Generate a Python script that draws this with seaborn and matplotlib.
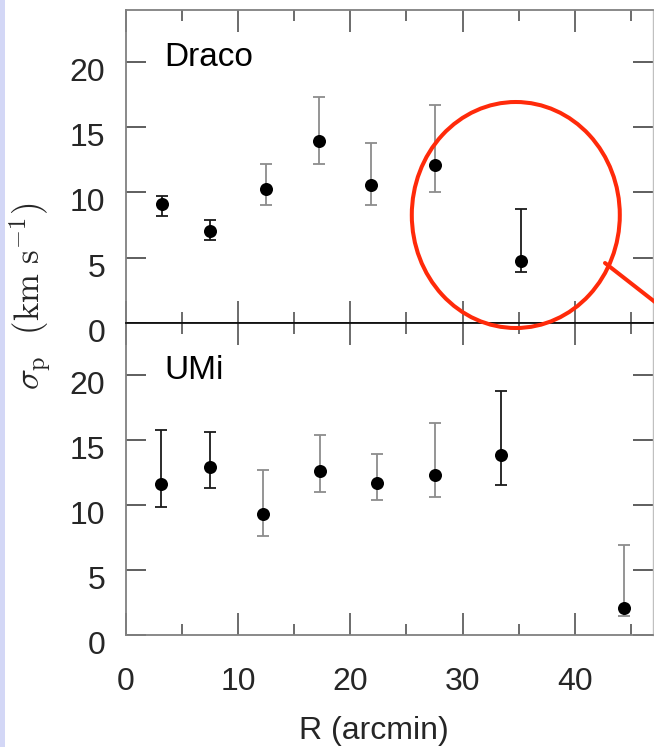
import numpy as np
import pandas as pd
import matplotlib
matplotlib.use("Agg")
import matplotlib.pyplot as plt
import matplotlib.transforms as mtransforms
from matplotlib.patches import Ellipse, Rectangle
from matplotlib.lines import Line2D
import seaborn as sns

# ---------------- data ----------------
draco_R = [3.24, 7.49, 12.46, 17.16, 21.88, 27.5, 35.2]
draco_sigma = [9.10, 7.03, 10.25, 13.92, 10.6, 12.11, 4.73]
draco_err_lo = [0.90, 0.69, 1.23, 1.74, 1.58, 2.10, 0.87]
draco_err_hi = [0.61, 0.89, 1.96, 3.45, 3.19, 4.62, 3.98]
draco_err_dark = [True, True, False, False, False, False, True]

umi_R = [3.12, 7.52, 12.25, 17.25, 22.36, 27.5, 33.45, 44.36]
umi_sigma = [11.62, 12.9, 9.31, 12.62, 11.69, 12.31, 13.85, 2.03]
umi_err_lo = [1.80, 1.62, 1.69, 1.67, 1.31, 1.75, 2.36, 0.62]
umi_err_hi = [4.15, 2.72, 3.38, 2.76, 2.23, 3.97, 4.92, 4.89]
umi_err_dark = [True, True, False, False, False, False, True, False]

panel_names = ["Draco", "UMi"]
x_major = [0, 10, 20, 30, 40]
x_minor = [5, 15, 25, 35, 45]
y_major = [0, 5, 10, 15, 20]

# ---------------- style ----------------
sns.set_theme(style="ticks")
plt.rcParams["font.family"] = ["Liberation Sans", "DejaVu Sans"]
plt.rcParams["mathtext.fontset"] = "cm"

W, H = 654, 747
fig = plt.figure(figsize=(W / 100, H / 100), dpi=100)
fig.patch.set_facecolor("white")

left = 126 / W
width = 527.3 / W
ax1 = fig.add_axes([left, 1 - 322.7 / H, width, 312.5 / H])
ax2 = fig.add_axes([left, 1 - 634.7 / H, width, 312.0 / H])

DARK = "#1a1a1a"
GRAY = "#8c8c8c"

datasets = [
    (ax1, draco_R, draco_sigma, draco_err_lo, draco_err_hi, draco_err_dark),
    (ax2, umi_R, umi_sigma, umi_err_lo, umi_err_hi, umi_err_dark),
]

for (ax, R, s, lo, hi, dark), name in zip(datasets, panel_names):
    df = pd.DataFrame({"R": R, "sigma": s, "lo": lo, "hi": hi, "dark": dark})
    for _, row in df.iterrows():
        ax.errorbar(row["R"], row["sigma"], yerr=[[row["lo"]], [row["hi"]]],
                    fmt="none", ecolor=DARK if row["dark"] else GRAY,
                    elinewidth=1.3, capsize=4.3, capthick=1.3, zorder=2)
    sns.scatterplot(data=df, x="R", y="sigma", ax=ax, color="black",
                    s=88, edgecolor="black", linewidth=0, zorder=3, legend=False)
    ax.set_xlim(0, 47)
    ax.set_ylim(0, 24)
    ax.set_xticks(x_major)
    ax.set_xticks(x_minor, minor=True)
    ax.set_yticks(y_major)
    ax.set_yticks([], minor=True)
    ax.tick_params(axis="x", which="major", direction="in", length=15.8, width=1.1,
                   color="#444444", top=True, bottom=True, labelsize=23, pad=23)
    ax.tick_params(axis="x", which="minor", direction="in", length=7.9, width=1.1,
                   color="#444444", top=True, bottom=True)
    ax.tick_params(axis="y", which="major", direction="in", length=14.4, width=1.1,
                   color="#333333", left=True, right=True, labelsize=23, pad=14.8)
    ax.set_xlabel("")
    ax.set_ylabel("")
    for sp in ["left", "top", "bottom"]:
        ax.spines[sp].set_color("#808080")
        ax.spines[sp].set_linewidth(1.3)
    ax.spines["right"].set_color("#c0c0c0")
    ax.spines["right"].set_linewidth(1.0)
    ax.text(3.45, 19.7, name, fontsize=24, va="baseline", ha="left", color="black")
    # y tick labels sit just below their ticks in the original
    off = mtransforms.ScaledTranslation(0, 4 / 100, fig.dpi_scale_trans)
    for lab in ax.get_yticklabels():
        lab.set_va("top")
        lab.set_transform(lab.get_transform() + off)

ax1.tick_params(axis="x", labelbottom=False)
ax1.spines["bottom"].set_color("#111111")
ax2.spines["top"].set_color("#111111")

ax2.set_xlabel("R (arcmin)", fontsize=23)
ax2.xaxis.set_label_coords((373.5 - 126) / 527.3, -0.262)
ax2.xaxis.label.set_va("top")

fig.text(30 / W, 1 - 296 / H, r"$\sigma_{\rm p}\ \ ({\rm km\ s^{-1}})$",
         rotation=90, ha="center", va="center", fontsize=25)

# left lavender border
fig.patches.append(Rectangle((0, 0), 5 / W, 1, transform=fig.transFigure,
                             facecolor="#d3d7f6", edgecolor="none", zorder=0))

# red highlight circle and pointer line (annotation overlay)
RED = "#ff2a0a"
fig.patches.append(Ellipse((515.8 / W, 1 - 215 / H), 208 / W, 226 / H,
                           transform=fig.transFigure, fill=False, edgecolor=RED,
                           linewidth=2.9, zorder=10))
fig.lines.append(Line2D([605 / W, 662 / W], [1 - 263 / H, 1 - 307.5 / H],
                        transform=fig.transFigure, color=RED, linewidth=2.9, zorder=10))

fig.savefig("out.png", dpi=100)
